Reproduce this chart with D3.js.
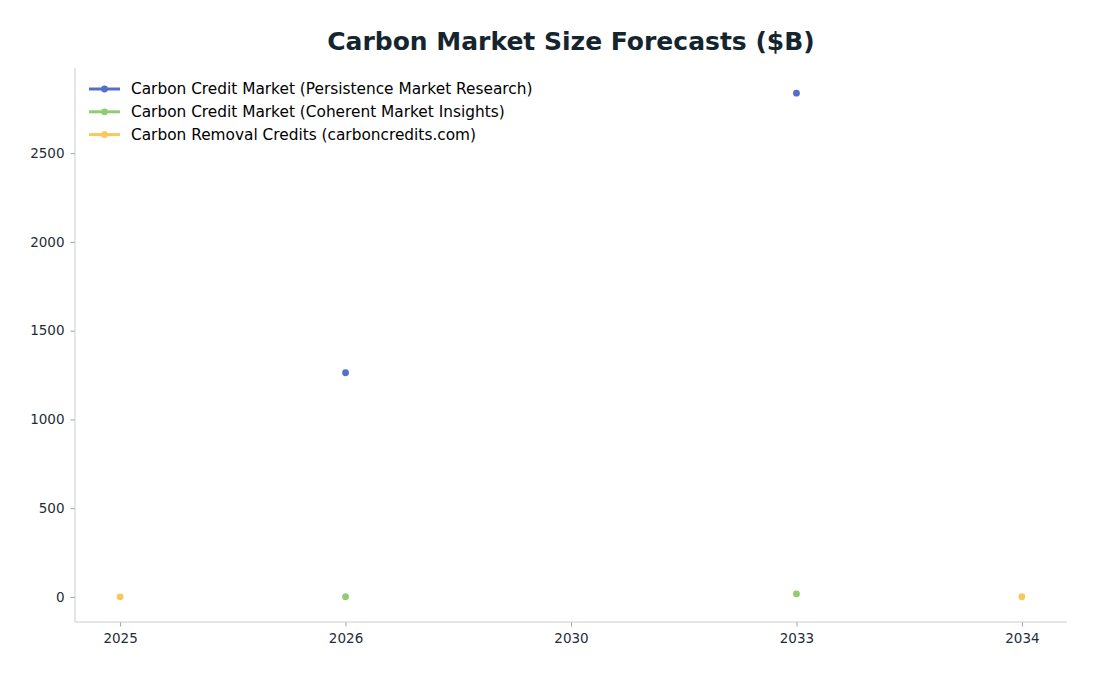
<!DOCTYPE html>
<html>
<head>
<meta charset="utf-8">
<script src="https://cdn.jsdelivr.net/npm/d3@7"></script>
<style>
  body { margin: 0; background: #fff; }
  svg text { font-family: "DejaVu Sans", sans-serif; }
</style>
</head>
<body>
<div id="chart"></div>
<script>
// data
const years = ["2025", "2026", "2030", "2033", "2034"];
const persistence = [null, 1263, null, 2838, null];
const coherent = [null, 1.5, null, 17, null];
const removal = [0.5, null, null, null, 1];
const seriesNames = [
    "Carbon Credit Market (Persistence Market Research)",
    "Carbon Credit Market (Coherent Market Insights)",
    "Carbon Removal Credits (carboncredits.com)"
];
const seriesColors = ["#5470c6", "#91cc75", "#fac858"];
const yTicks = [0, 500, 1000, 1500, 2000, 2500];

const width = 1096, height = 676;
const plotLeft = 75, plotRight = 1067, plotTop = 68, plotBottom = 622;

const svg = d3.select("#chart").append("svg")
    .attr("width", width)
    .attr("height", height);

// categorical x with matplotlib-like margins
const x = d3.scalePoint()
    .domain(years)
    .range([plotLeft, plotRight])
    .padding(0.2);

const allVals = [].concat(persistence, coherent, removal).filter(v => v != null);
const yMin = d3.min(allVals), yMax = d3.max(allVals);
const pad = (yMax - yMin) * 0.05;
const y = d3.scaleLinear()
    .domain([yMin - pad, yMax + pad])
    .range([plotBottom, plotTop]);

// title
svg.append("text")
    .attr("x", (plotLeft + plotRight) / 2)
    .attr("y", 50)
    .attr("text-anchor", "middle")
    .attr("font-size", 25)
    .attr("font-weight", "bold")
    .attr("fill", "#15252f")
    .text("Carbon Market Size Forecasts ($B)");

// axes
const xAxis = svg.append("g")
    .attr("transform", `translate(0,${plotBottom})`)
    .call(d3.axisBottom(x).tickSize(4.5).tickPadding(7).tickSizeOuter(0));
const yAxis = svg.append("g")
    .attr("transform", `translate(${plotLeft},0)`)
    .call(d3.axisLeft(y).tickValues(yTicks).tickFormat(d3.format("d"))
        .tickSize(4.5).tickPadding(6).tickSizeOuter(0));

[xAxis, yAxis].forEach(g => {
    g.attr("font-family", null);
    g.select(".domain").remove();
    g.selectAll(".tick line").attr("stroke", "#9aa4ab");
    g.selectAll(".tick text")
        .attr("font-size", 13.5)
        .attr("fill", "#1f2d3a");
});

// spines
svg.append("line")
    .attr("x1", plotLeft).attr("x2", plotLeft)
    .attr("y1", plotTop).attr("y2", plotBottom)
    .attr("stroke", "#c8cdd0");
svg.append("line")
    .attr("x1", plotLeft).attr("x2", plotRight)
    .attr("y1", plotBottom).attr("y2", plotBottom)
    .attr("stroke", "#c8cdd0");

// series: line segments only between consecutive defined points, plus markers
const series = [persistence, coherent, removal];
const line = d3.line()
    .defined(d => d.v != null)
    .x(d => x(d.year))
    .y(d => y(d.v));

series.forEach((vals, i) => {
    const pts = years.map((yr, j) => ({ year: yr, v: vals[j] }));
    svg.append("path")
        .datum(pts)
        .attr("fill", "none")
        .attr("stroke", seriesColors[i])
        .attr("stroke-width", 2.5)
        .attr("d", line);
    svg.selectAll(".pt" + i)
        .data(pts.filter(d => d.v != null))
        .enter()
        .append("circle")
        .attr("class", "pt" + i)
        .attr("cx", d => x(d.year))
        .attr("cy", d => y(d.v))
        .attr("r", 3.4)
        .attr("fill", seriesColors[i]);
});

// legend
const legend = svg.append("g").attr("transform", "translate(89,89)");
seriesNames.forEach((name, i) => {
    const row = legend.append("g").attr("transform", `translate(0,${i * 22.8})`);
    row.append("line")
        .attr("x1", 0).attr("x2", 31)
        .attr("stroke", seriesColors[i])
        .attr("stroke-width", 3);
    row.append("circle")
        .attr("cx", 15.5).attr("r", 3.4)
        .attr("fill", seriesColors[i]);
    row.append("text")
        .attr("x", 42)
        .attr("dy", "0.35em")
        .attr("font-size", 15.35)
        .attr("fill", "#000")
        .text(name);
});
</script>
</body>
</html>
